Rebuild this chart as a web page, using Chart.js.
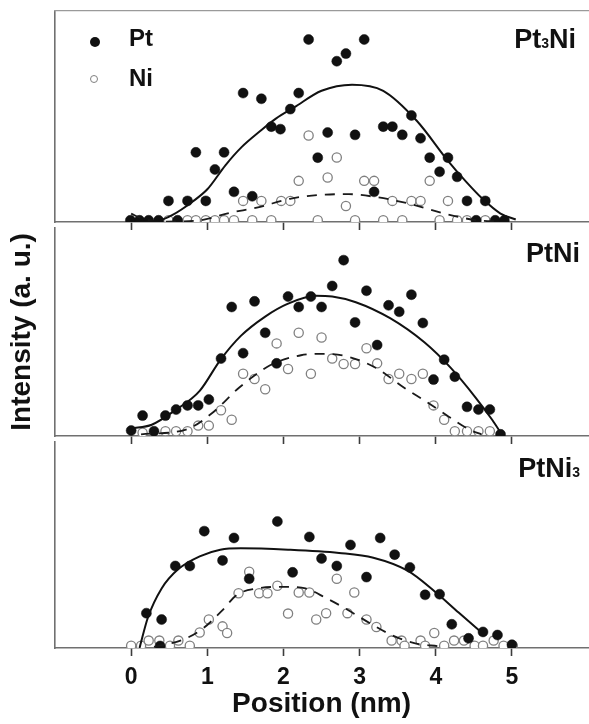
<!DOCTYPE html>
<html><head><meta charset="utf-8">
<script src="https://cdn.jsdelivr.net/npm/chart.js@4/dist/chart.umd.min.js"></script>
<style>
html,body{margin:0;padding:0;background:#fff;overflow:hidden;width:589px;height:724px;}
#wrap{position:relative;width:589px;height:724px;overflow:hidden;font-family:"Liberation Sans",Arial,Helvetica,sans-serif;}
.pane{position:absolute;left:0;width:594px;}
canvas{display:block;}
.lbl{position:absolute;font-weight:bold;color:#111;line-height:1;white-space:nowrap;}
.sm{font-size:14px;}
.dot{position:absolute;border-radius:50%;box-sizing:border-box;}
</style></head><body>
<div id="wrap">
  <div class="pane" style="top:0;height:230px"><canvas id="c1" width="594" height="230"></canvas></div>
  <div class="pane" style="top:222px;height:222px"><canvas id="c2" width="594" height="222"></canvas></div>
  <div class="pane" style="top:436px;height:288px"><canvas id="c3" width="594" height="288"></canvas></div>
  <div class="dot" style="left:90px;top:37px;width:10px;height:10px;background:#111"></div>
  <div class="dot" style="left:90px;top:75px;width:8px;height:8px;border:1.2px solid #808080;background:#fff"></div>
  <div class="lbl" id="lg1" style="left:129px;top:26px;font-size:24px"></div>
  <div class="lbl" id="lg2" style="left:129px;top:66px;font-size:24px"></div>
  <div class="lbl" style="right:13px;top:26px;font-size:27px">Pt<span class="sm">3</span>Ni</div>
  <div class="lbl" style="right:9px;top:240px;font-size:27px">PtNi</div>
  <div class="lbl" style="right:9px;top:455px;font-size:27px">PtNi<span class="sm">3</span></div>
</div>
<script>
// ---- data (position in nm, intensity in a.u., panel top = 100) ----
const xTicks = [0, 1, 2, 3, 4, 5];
const seriesNames = ['Pt', 'Ni'];
const xTitle = 'Position (nm)';
const yTitle = 'Intensity (a. u.)';

// Pt3Ni
const pt1X = [-0.01,0.11,0.23,0.36,0.49,0.61,0.74,0.85,0.98,1.10,1.22,1.35,1.47,1.59,1.71,1.84,1.96,2.09,2.20,2.33,2.45,2.58,2.70,2.82,2.94,3.06,3.19,3.31,3.43,3.56,3.68,3.80,3.92,4.05,4.16,4.28,4.41,4.53,4.65,4.78,4.90];
const pt1Y = [0.8,0.8,0.8,0.8,10.0,0.8,10.0,33.0,10.0,24.9,33.0,14.3,61.1,12.2,58.4,45.2,44.0,53.5,61.1,86.5,30.5,42.4,76.2,79.8,41.3,86.5,14.3,45.2,45.2,41.3,50.5,39.7,30.5,23.8,30.5,21.4,10.0,0.8,10.0,0.8,0.8];
const ni1X = [0.49,0.74,0.85,0.98,1.10,1.22,1.35,1.47,1.59,1.71,1.84,1.97,2.09,2.20,2.33,2.45,2.58,2.70,2.82,2.94,3.06,3.19,3.31,3.43,3.56,3.68,3.80,3.92,4.05,4.16,4.28,4.41,4.65];
const ni1Y = [0.8,0.8,0.8,0.8,0.8,0.8,0.8,10.0,0.8,10.0,0.8,10.0,10.0,19.5,41.0,0.8,21.1,30.6,7.6,0.8,19.5,19.5,0.8,10.0,0.8,10.0,10.0,19.5,0.8,10.0,0.8,0.8,0.8];
const fitPt1X = [0.12,0.35,0.55,0.80,1.00,1.24,1.45,1.69,1.90,2.14,2.50,2.90,3.31,3.75,4.16,4.40,4.61,4.85,5.05];
const fitPt1Y = [0,0.5,3.5,9.5,15.5,27.0,35.5,43.0,49.0,54.3,62.2,65.1,62.2,48.0,29.0,19.0,11.1,4.0,1.2];
const fitNi1X = [0,0.15,0.40,0.90,1.30,1.65,2.10,2.55,2.86,3.20,3.65,4.14,4.55,4.85];
const fitNi1Y = [4.0,1.5,0.2,0.8,4.4,6.8,11.1,13.0,13.2,11.9,8.7,3.7,0.8,0.3];

// PtNi
const pt2X = [0.00,0.15,0.30,0.45,0.59,0.74,0.88,1.02,1.18,1.32,1.47,1.62,1.76,1.91,2.06,2.20,2.36,2.50,2.64,2.79,2.94,3.09,3.23,3.38,3.52,3.68,3.83,3.97,4.11,4.25,4.41,4.56,4.71,4.85];
const pt2Y = [2.6,9.8,2.3,9.8,12.7,14.7,14.7,17.5,37.2,62.0,39.8,64.7,49.6,34.9,67.0,62.0,67.0,62.0,72.1,84.5,54.6,69.8,43.7,62.8,59.7,67.9,54.3,27.1,36.7,28.5,14.0,12.7,12.7,0.8];
const ni2X = [0.15,0.45,0.59,0.74,0.88,1.02,1.18,1.32,1.47,1.62,1.76,1.91,2.06,2.20,2.36,2.50,2.64,2.79,2.94,3.09,3.23,3.38,3.52,3.68,3.83,3.97,4.11,4.25,4.41,4.56,4.71];
const ni2Y = [1.6,2.3,2.3,2.3,5.0,5.0,12.4,7.8,29.9,27.4,22.5,44.5,32.2,49.6,29.9,47.3,37.2,34.6,34.6,42.2,34.9,27.4,29.9,27.4,29.9,14.7,7.8,2.3,2.3,2.3,2.3];
const fitPt2X = [0,0.27,0.58,0.90,1.17,1.44,1.76,2.06,2.42,2.64,2.95,3.40,3.85,4.20,4.52,4.74,4.88];
const fitPt2Y = [3.6,5.4,12.4,21.7,36.5,48.1,57.4,63.6,67.4,67.0,64.3,56.6,45.0,32.6,18.6,7.8,0];
const fitNi2X = [0.13,0.72,1.06,1.42,1.83,2.23,2.55,2.86,3.22,3.58,3.85,4.17,4.44,4.60];
const fitNi2Y = [0.8,3.1,10.9,23.3,34.1,38.8,39.5,38.0,32.6,23.3,17.1,9.3,3.1,0.8];

// PtNi3
const pt3X = [0.20,0.38,0.40,0.58,0.77,0.96,1.20,1.35,1.55,1.92,2.12,2.34,2.50,2.70,2.88,3.09,3.27,3.46,3.66,3.86,4.05,4.21,4.43,4.62,4.81,5.00];
const pt3Y = [16.9,1.0,13.8,39.8,39.8,56.7,42.5,53.4,33.6,61.4,36.7,53.9,43.4,39.8,50.0,34.4,53.4,45.3,39.1,25.8,26.1,11.5,4.7,7.8,6.3,1.6];
const ni3X = [0.00,0.13,0.23,0.37,0.51,0.62,0.77,0.90,1.02,1.20,1.26,1.41,1.55,1.68,1.79,1.92,2.06,2.20,2.34,2.43,2.56,2.70,2.84,2.93,3.09,3.22,3.42,3.55,3.59,3.80,3.86,3.98,4.11,4.24,4.37,4.51,4.62,4.76,4.89,5.01];
const ni3Y = [1.1,1.1,3.6,3.6,1.1,3.6,1.1,7.5,13.8,10.5,7.3,26.6,37.0,26.6,26.6,30.2,16.7,26.9,26.9,13.8,16.9,33.6,16.9,26.9,13.8,10.2,3.6,3.6,1.1,3.6,1.1,7.3,1.1,3.6,3.6,1.1,1.1,3.6,1.1,1.1];
const fitPt3X = [0.11,0.22,0.40,0.62,0.90,1.17,1.44,2.06,2.73,3.18,3.63,3.99,4.30,4.65];
const fitPt3Y = [0,14.8,28.9,38.3,44.5,47.7,48.4,47.7,46.1,43.8,37.5,27.3,17.2,6.0];
const fitNi3X = [0.30,0.67,0.94,1.19,1.39,1.66,2.02,2.29,2.56,2.83,3.15,3.42,3.73,4.04];
const fitNi3Y = [0.5,3.9,9.4,18.0,25.8,28.9,29.7,28.9,24.2,18.8,11.7,6.3,2.3,0.8];

// ---- rendering ----
document.getElementById('lg1').textContent = seriesNames[0];
document.getElementById('lg2').textContent = seriesNames[1];

const FONT = '"Liberation Sans", Arial, Helvetica, sans-serif';
Chart.defaults.font.family = FONT;
Chart.defaults.color = '#111';
const AXIS = '#707070';

function pts(xs, ys) { return xs.map((x, i) => ({x: x, y: ys[i]})); }

function panel(id, d, o) {
  const datasets = [
    {label: seriesNames[0] + ' fit', data: pts(d.fptX, d.fptY), showLine: true, pointRadius: 0,
     borderColor: '#111', borderWidth: 2, cubicInterpolationMode: 'monotone', clip: 0, order: 0},
    {label: seriesNames[1] + ' fit', data: pts(d.fniX, d.fniY), showLine: true, pointRadius: 0,
     borderColor: '#1a1a1a', borderWidth: 1.8, borderDash: [10, 8], cubicInterpolationMode: 'monotone', clip: 0, order: 0},
    {label: seriesNames[0], data: pts(d.ptX, d.ptY), pointRadius: 5, pointBackgroundColor: '#111',
     pointBorderColor: '#111', pointBorderWidth: 0.5, clip: 0, order: 1},
    {label: seriesNames[1], data: pts(d.niX, d.niY), pointRadius: 4.6, pointBackgroundColor: '#fff',
     pointBorderColor: '#808080', pointBorderWidth: 1.3, clip: 0, order: 2}
  ];
  const scales = {
    x: {
      type: 'linear', position: 'bottom', min: -1, max: 6,
      afterBuildTicks: s => { s.ticks = xTicks.map(v => ({value: v})); },
      afterFit: s => { s.height = o.xHeight; },
      grid: {display: true, drawOnChartArea: false, drawTicks: true, tickLength: 8, tickColor: '#3c3c3c', tickWidth: 1.6},
      border: {display: true, color: AXIS, width: 1.6},
      ticks: {display: !!o.labels, font: {size: 23, weight: 'bold'}, color: '#111', padding: 8, maxRotation: 0, autoSkip: false},
      title: o.xTitle ? {display: true, text: o.xTitle, font: {size: 28, weight: 'bold'}, color: '#111', padding: {top: 0, bottom: 3}} : {display: false}
    },
    y: {
      type: 'linear', min: 0, max: 100,
      afterFit: s => { s.width = 55; },
      grid: {display: false},
      border: {display: true, color: AXIS, width: 1.6},
      ticks: {display: false},
      title: o.yTitle ? {display: true, text: o.yTitle, font: {size: 28, weight: 'bold'}, color: '#111', padding: {top: 5, bottom: 0}} : {display: false}
    }
  };
  if (o.topBorder) {
    scales.xTop = {
      type: 'linear', position: 'top', min: -1, max: 6,
      afterFit: s => { s.height = 0; },
      grid: {display: false}, ticks: {display: false},
      border: {display: true, color: '#9a9a9a', width: 1.2}
    };
  }
  return new Chart(document.getElementById(id), {
    type: 'scatter',
    data: {datasets},
    options: {
      responsive: false, animation: false, devicePixelRatio: 1,
      layout: {padding: {top: o.padTop || 0, left: 0, right: 0, bottom: 0}},
      plugins: {legend: {display: false}, tooltip: {enabled: false}},
      scales
    }
  });
}

panel('c1', {ptX: pt1X, ptY: pt1Y, niX: ni1X, niY: ni1Y, fptX: fitPt1X, fptY: fitPt1Y, fniX: fitNi1X, fniY: fitNi1Y},
      {xHeight: 8, padTop: 11, topBorder: true});
panel('c2', {ptX: pt2X, ptY: pt2Y, niX: ni2X, niY: ni2Y, fptX: fitPt2X, fptY: fitPt2Y, fniX: fitNi2X, fniY: fitNi2Y},
      {xHeight: 8, yTitle: yTitle});
panel('c3', {ptX: pt3X, ptY: pt3Y, niX: ni3X, niY: ni3Y, fptX: fitPt3X, fptY: fitPt3Y, fniX: fitNi3X, fniY: fitNi3Y},
      {xHeight: 76, labels: true, xTitle: xTitle});
</script>
</body></html>
